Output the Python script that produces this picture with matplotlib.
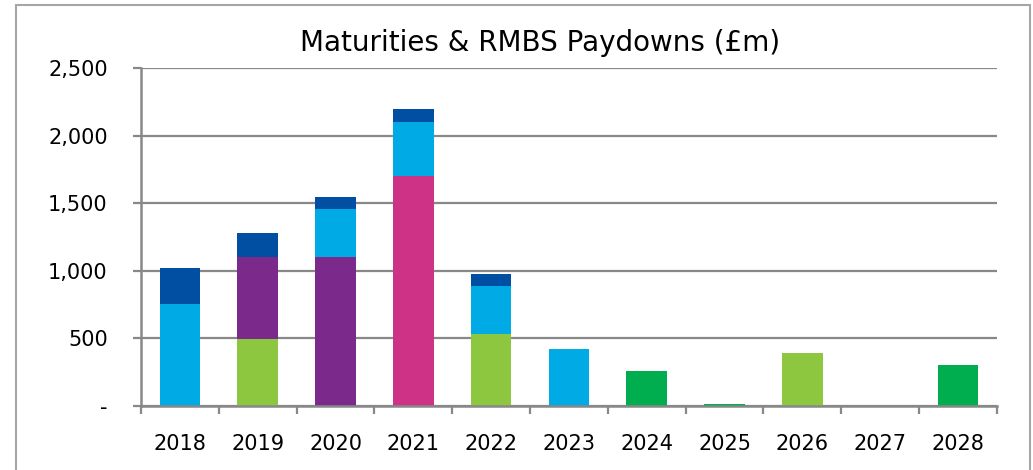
import matplotlib.pyplot as plt
from matplotlib.patches import Rectangle
from matplotlib.ticker import FuncFormatter, MultipleLocator
import numpy as np

years = ['2018', '2019', '2020', '2021', '2022', '2023',
         '2024', '2025', '2026', '2027', '2028']

# stacked bottom to top
light_green = [0, 495, 0, 0, 530, 0, 0, 0, 393, 0, 0]
green = [0, 0, 0, 0, 0, 0, 260, 18, 0, 0, 302]
purple = [0, 605, 1100, 0, 0, 0, 0, 0, 0, 0, 0]
magenta = [0, 0, 0, 1702, 0, 0, 0, 0, 0, 0, 0]
light_blue = [755, 0, 360, 403, 358, 423, 0, 0, 0, 0, 0]
dark_blue = [268, 180, 90, 92, 90, 0, 0, 0, 0, 0, 0]

series = [
    (light_green, '#8DC63F'),
    (green, '#00AE4F'),
    (purple, '#7B2A8C'),
    (magenta, '#CE3287'),
    (light_blue, '#00AAE4'),
    (dark_blue, '#004FA2'),
]

plt.rcParams['font.family'] = 'DejaVu Sans'
grid_col = '#888888'

fig = plt.figure(figsize=(10.33, 4.70), dpi=100)
ax = fig.add_axes([0.1365, 0.136, 0.8285, 0.719])

x = np.arange(len(years))
bottom = np.zeros(len(years))
for vals, col in series:
    vals = np.array(vals, dtype=float)
    ax.bar(x, vals, width=0.52, bottom=bottom, color=col,
           edgecolor='none', zorder=3)
    bottom += vals

ax.set_xlim(-0.5, len(years) - 0.5)
ax.set_ylim(0, 2500)
ax.yaxis.set_major_locator(MultipleLocator(500))
ax.yaxis.set_major_formatter(
    FuncFormatter(lambda v, p: '-' if v == 0 else f'{int(v):,}'))
ax.grid(axis='y', color=grid_col, linewidth=1.6, zorder=0)

ax.set_xticks(x)
ax.set_xticklabels(years)
ax.set_xticks(np.arange(len(years) + 1) - 0.5, minor=True)
ax.tick_params(axis='x', which='major', length=0, pad=20, labelsize=15)
ax.tick_params(axis='x', which='minor', length=6, width=1.6,
               color=grid_col, direction='out')
ax.tick_params(axis='y', length=6, width=1.6, color=grid_col,
               pad=18, labelsize=15)

for s in ['top', 'right']:
    ax.spines[s].set_visible(False)
for s in ['left', 'bottom']:
    ax.spines[s].set_color(grid_col)
    ax.spines[s].set_linewidth(1.8)
    ax.spines[s].set_zorder(4)

fig.text(0.523, 0.908, 'Maturities & RMBS Paydowns (£m)', ha='center',
         va='center', fontsize=20)

# outer chart frame
fig.patches.append(Rectangle((16 / 1033, -0.05), 1014 / 1033, 1.039,
                             transform=fig.transFigure, fill=False,
                             edgecolor='#A6A6A6', linewidth=1.5))

fig.savefig('out.png', dpi=100)
